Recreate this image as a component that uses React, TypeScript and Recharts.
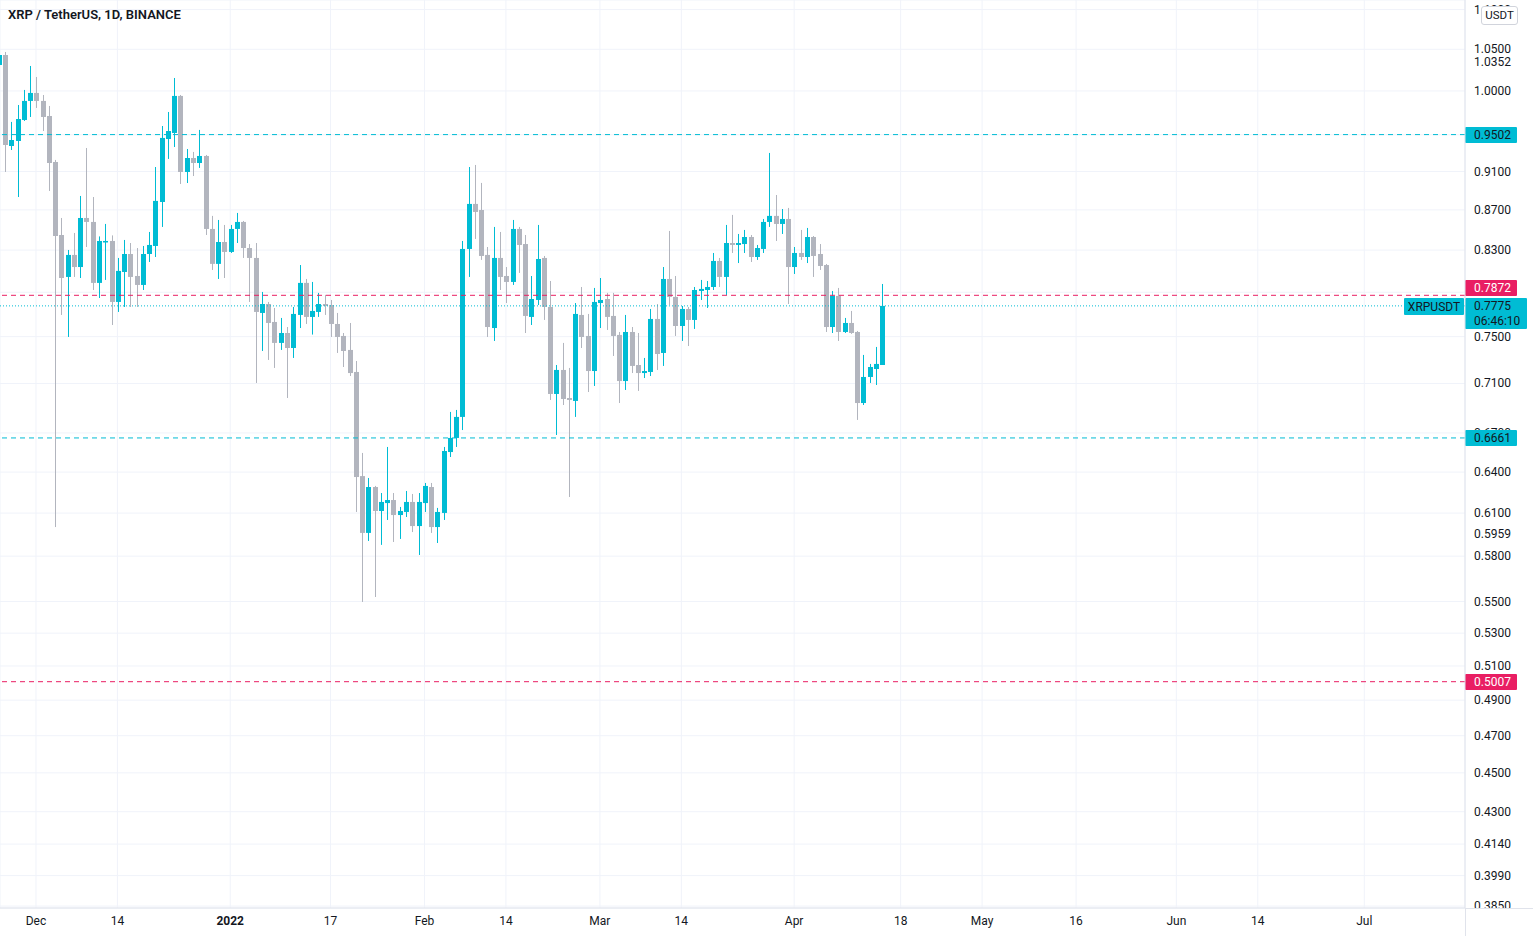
import React from "react"
import { ComposedChart, Bar, XAxis, YAxis, CartesianGrid, ReferenceLine } from "recharts"

const TEAL = "#00bcd4"
const GREY = "#b2b5be"
const RED = "#e91e63"
const TEXT = "#131722"
const GRID = "#f0f3fa"
const BORDER = "#e0e3eb"

// day 0 = 26 Nov 2021, the first value is 25 Nov (day -1)
const firstDay = -1

const open = [
  1.0309, 1.043, 0.9376, 0.9431, 0.9666, 0.9884, 0.9977, 0.9884, 0.9711, 0.9202,
  0.8448, 0.8043, 0.8253, 0.8137, 0.8618, 0.8578, 0.7987, 0.8379, 0.8389, 0.7811,
  0.809, 0.8262, 0.8052, 0.7968, 0.8262, 0.834, 0.8781, 0.9453, 0.952, 0.9942,
  0.9095, 0.9245, 0.9191, 0.9267, 0.8508, 0.8167, 0.8379, 0.8282, 0.8508, 0.8578,
  0.832, 0.8224, 0.7711, 0.7792, 0.763, 0.7445, 0.7532, 0.7401, 0.7693, 0.7987,
  0.7675, 0.772, 0.7792, 0.7783, 0.7612, 0.7506, 0.7384, 0.7196, 0.637, 0.596,
  0.6289, 0.6115, 0.6172, 0.6194, 0.6086, 0.6108, 0.618, 0.6008, 0.6172, 0.6289,
  0.6001, 0.6101, 0.6552, 0.6661, 0.6827, 0.8311, 0.8761, 0.8699, 0.8253, 0.7576,
  0.8224, 0.8052, 0.7996, 0.8508, 0.8359, 0.7675, 0.7829, 0.8224, 0.7765, 0.7013,
  0.7213, 0.698, 0.6956, 0.7693, 0.7506, 0.7204, 0.7801, 0.7838, 0.7684, 0.7515,
  0.712, 0.7541, 0.7255, 0.7187, 0.7196, 0.7657, 0.7358, 0.8024, 0.7857, 0.7594,
  0.7747, 0.7648, 0.7912, 0.7921, 0.7949, 0.8195, 0.8043, 0.8369, 0.835, 0.8359,
  0.8428, 0.8233, 0.8311, 0.8578, 0.8639, 0.8558, 0.8608, 0.8137, 0.8272, 0.8233,
  0.8428, 0.8262, 0.8156, 0.7585, 0.7866, 0.7541, 0.7621, 0.7541, 0.6939, 0.7154,
  0.7221, 0.7255,
]
const high = [
  1.0553, 1.0467, 0.9644, 0.9837, 1.0012, 1.0297, 1.0165, 0.9953, 0.9826, 0.9224,
  0.8618, 0.8301, 0.8468, 0.8843, 0.9354, 0.8832, 0.8434, 0.8558, 0.8444, 0.8224,
  0.8399, 0.8369, 0.832, 0.834, 0.8478, 0.9148, 0.9598, 0.9757, 1.0153, 0.9953,
  0.9343, 0.9311, 0.9554, 0.9278, 0.8639, 0.8598, 0.8548, 0.8548, 0.8669, 0.8588,
  0.8359, 0.8369, 0.7903, 0.7811, 0.7756, 0.7666, 0.7585, 0.7765, 0.8156, 0.8024,
  0.7996, 0.7894, 0.7876, 0.7829, 0.7711, 0.7532, 0.7621, 0.7289, 0.6545, 0.6356,
  0.6297, 0.6245, 0.6591, 0.6245, 0.6144, 0.626, 0.6238, 0.6245, 0.6319, 0.6319,
  0.6137, 0.6591, 0.6867, 0.6883, 0.8389, 0.9148, 0.917, 0.8979, 0.833, 0.8528,
  0.8478, 0.8137, 0.8598, 0.8528, 0.8448, 0.8052, 0.8548, 0.8243, 0.8005, 0.7255,
  0.7445, 0.723, 0.7801, 0.7949, 0.7702, 0.794, 0.8033, 0.7894, 0.7894, 0.7541,
  0.7693, 0.7585, 0.7532, 0.7315, 0.7747, 0.7792, 0.8137, 0.8488, 0.8052, 0.7774,
  0.7765, 0.7949, 0.8015, 0.8005, 0.8272, 0.8224, 0.8548, 0.8649, 0.8458, 0.8498,
  0.8448, 0.835, 0.8608, 0.93, 0.8853, 0.8709, 0.872, 0.833, 0.8498, 0.8518,
  0.8438, 0.8359, 0.8166, 0.7912, 0.794, 0.7666, 0.7729, 0.755, 0.7341, 0.7264,
  0.741, 0.7977,
]
const low = [
  1.0189, 0.9095, 0.9332, 0.8832, 0.9655, 0.97, 0.9803, 0.9542, 0.8895, 0.6001,
  0.7693, 0.7497, 0.8043, 0.8033, 0.833, 0.7921, 0.7847, 0.8015, 0.7603, 0.772,
  0.7765, 0.7765, 0.7765, 0.7921, 0.8185, 0.8233, 0.8528, 0.9235, 0.9365, 0.8968,
  0.8978, 0.9052, 0.9138, 0.8448, 0.8109, 0.8024, 0.8033, 0.8272, 0.8369, 0.8224,
  0.7811, 0.7104, 0.7375, 0.7298, 0.723, 0.7384, 0.698, 0.7315, 0.7576, 0.7612,
  0.7518, 0.7675, 0.7693, 0.7497, 0.7358, 0.7238, 0.7162, 0.6108, 0.5497, 0.5904,
  0.5529, 0.5877, 0.6051, 0.5897, 0.5918, 0.6072, 0.5966, 0.5808, 0.6108, 0.596,
  0.589, 0.6051, 0.6514, 0.6591, 0.6723, 0.8043, 0.8409, 0.8205, 0.7497, 0.7462,
  0.7921, 0.7801, 0.7968, 0.8081, 0.7532, 0.7603, 0.7783, 0.7648, 0.6964, 0.6684,
  0.6923, 0.6216, 0.6827, 0.7401, 0.7029, 0.7079, 0.7576, 0.7559, 0.7332, 0.6939,
  0.7046, 0.7187, 0.7038, 0.7145, 0.7162, 0.7213, 0.7247, 0.7783, 0.7506, 0.7462,
  0.7418, 0.7568, 0.7829, 0.7756, 0.7921, 0.7949, 0.7875, 0.8272, 0.8175, 0.8272,
  0.8185, 0.8205, 0.8272, 0.8528, 0.8389, 0.8458, 0.7792, 0.8071, 0.8205, 0.8175,
  0.8043, 0.8109, 0.7541, 0.7532, 0.7462, 0.7532, 0.7524, 0.6803, 0.6923, 0.7104,
  0.7087, 0.7255,
]
const close = [
  1.043, 0.9387, 0.9442, 0.9677, 0.9884, 0.9977, 0.9884, 0.97, 0.9191, 0.8438,
  0.8033, 0.8253, 0.8137, 0.8618, 0.8578, 0.7987, 0.8389, 0.8389, 0.7811, 0.81,
  0.8262, 0.8043, 0.7968, 0.8262, 0.835, 0.8792, 0.9465, 0.9542, 0.9942, 0.9095,
  0.9245, 0.9191, 0.9267, 0.8508, 0.8167, 0.8379, 0.8282, 0.8508, 0.8578, 0.832,
  0.8224, 0.772, 0.7792, 0.7621, 0.7445, 0.7532, 0.7401, 0.7702, 0.7987, 0.7675,
  0.7729, 0.7792, 0.7774, 0.7612, 0.7497, 0.7375, 0.7187, 0.6363, 0.596, 0.6289,
  0.6115, 0.618, 0.6194, 0.6086, 0.6115, 0.618, 0.6008, 0.618, 0.6297, 0.6001,
  0.6108, 0.656, 0.6661, 0.6827, 0.8311, 0.8761, 0.8679, 0.8243, 0.7585, 0.8224,
  0.8043, 0.7996, 0.8508, 0.835, 0.7684, 0.7838, 0.8214, 0.7765, 0.7013, 0.7213,
  0.6972, 0.6964, 0.7702, 0.7497, 0.7204, 0.7811, 0.7829, 0.7675, 0.7506, 0.712,
  0.7541, 0.7247, 0.7187, 0.7204, 0.7657, 0.7349, 0.8024, 0.7857, 0.7594, 0.7747,
  0.7648, 0.7921, 0.7931, 0.7949, 0.8195, 0.8043, 0.8369, 0.835, 0.8369, 0.8428,
  0.8233, 0.832, 0.8578, 0.8639, 0.8558, 0.8608, 0.8137, 0.8272, 0.8233, 0.8428,
  0.8243, 0.8147, 0.7585, 0.7866, 0.7541, 0.7621, 0.7532, 0.6939, 0.7154, 0.7238,
  0.7264, 0.7775,
]

const xTicks = [5, 18, 36, 52, 67, 80, 95, 108, 126, 143, 156, 171, 187, 200, 217]
const xLabels = ["Dec", "14", "2022", "17", "Feb", "14", "Mar", "14", "Apr", "18", "May", "16", "Jun", "14", "Jul"]

const yTicks = [
  1.1, 1.05, 1.0, 0.95, 0.91, 0.87, 0.83, 0.79, 0.75, 0.71, 0.67, 0.64, 0.61, 0.58,
  0.55, 0.53, 0.51, 0.49, 0.47, 0.45, 0.43, 0.414, 0.399, 0.385,
]

const tealLevels = [0.9502, 0.6661]
const redLevels = [0.7872, 0.5007]
const markPrices = [1.0352, 0.5959]
const lastPrice = 0.7775
const countdown = "06:46:10"
const symbol = "XRPUSDT"

const Y_MIN = 0.38414
const Y_MAX = 1.1124
const PLOT_H = 908
const PX_PER_LN = PLOT_H / Math.log(Y_MAX / Y_MIN)
const RED_SHIFT = -7

// price tags on the axis that hide the tick labels under them: [price, shift]
const tagBoxes: [number, number][] = [
  [tealLevels[0], 0],
  [tealLevels[1], 0],
  [redLevels[0], RED_SHIFT],
  [redLevels[1], 0],
]

const data = open.map((o, i) => ({
  day: firstDay + i,
  open: o,
  high: high[i],
  low: low[i],
  close: close[i],
  range: [low[i], high[i]],
}))

function Candle(props: any) {
  const { x, y, width, height, payload } = props
  if (!payload || height == null) return null
  const top = Math.min(y, y + height)
  const bot = Math.max(y, y + height)
  const lh = Math.log(payload.high)
  const span = lh - Math.log(payload.low) || 1
  const py = (p: number) => top + ((bot - top) * (lh - Math.log(p))) / span
  const up = payload.close >= payload.open
  const col = up ? TEAL : GREY
  const cx = Math.round(x + width / 2)
  const bt = py(Math.max(payload.open, payload.close))
  const bb = py(Math.min(payload.open, payload.close))
  return (
    <g>
      <line x1={cx + 0.5} x2={cx + 0.5} y1={top} y2={bot} stroke={col} strokeWidth={1} />
      <rect x={cx - 2} y={bt} width={5} height={Math.max(1.5, bb - bt)} fill={col} />
    </g>
  )
}

function XTick(props: any) {
  const { x, y, payload } = props
  const label = xLabels[xTicks.indexOf(payload.value)]
  return (
    <text x={x} y={y + 17} textAnchor="middle" fontSize={12} fill={TEXT} fontWeight={label === "2022" ? 700 : 400}>
      {label}
    </text>
  )
}

function YTick(props: any) {
  const { x, y, payload, index } = props
  const v: number = payload.value
  // a tag box lying over this label cuts it off from its top edge down
  let cut: number | null = null
  for (const [p, shift] of tagBoxes) {
    const ty = y - PX_PER_LN * Math.log(p / v) + shift
    if (Math.abs(ty - y) < 14) cut = Math.min(cut ?? Infinity, ty - 8)
  }
  if (cut !== null && cut <= y - 5) return null
  const id = "ytick-clip-" + index
  return (
    <g>
      {cut !== null && (
        <defs>
          <clipPath id={id}>
            <rect x={x} y={y - 20} width={70} height={cut - (y - 20)} />
          </clipPath>
        </defs>
      )}
      <text x={x + 9} y={y + 4} fontSize={12} fill={TEXT} clipPath={cut !== null ? `url(#${id})` : undefined}>
        {v.toFixed(4)}
      </text>
    </g>
  )
}

function LevelTag(props: any) {
  const { viewBox, value, fill, textFill, shift = 0 } = props
  if (!viewBox) return null
  const x = viewBox.x + viewBox.width
  const cy = Math.round(viewBox.y + shift)
  return (
    <g>
      <rect x={x} y={cy - 8} width={52} height={16} fill={fill} rx={1} />
      <text x={x + 9} y={cy + 4} fontSize={12} fill={textFill}>
        {value.toFixed(4)}
      </text>
    </g>
  )
}

function MarkTag(props: any) {
  const { viewBox, value } = props
  if (!viewBox) return null
  const x = viewBox.x + viewBox.width
  return (
    <text x={x + 9} y={Math.round(viewBox.y) + 5} fontSize={12} fill={TEXT}>
      {value.toFixed(4)}
    </text>
  )
}

function LastTag(props: any) {
  const { viewBox } = props
  if (!viewBox) return null
  const x = viewBox.x + viewBox.width
  const cy = Math.round(viewBox.y)
  return (
    <g>
      <rect x={x - 61} y={cy - 8} width={60} height={17} fill={TEAL} rx={1} />
      <text x={x - 31} y={cy + 5} textAnchor="middle" fontSize={12} fill={TEXT}>
        {symbol}
      </text>
      <rect x={x} y={cy - 8} width={62} height={31} fill={TEAL} rx={1} />
      <text x={x + 9} y={cy + 4} fontSize={12} fill={TEXT}>
        {lastPrice.toFixed(4)}
      </text>
      <text x={x + 9} y={cy + 19} fontSize={12} fill={TEXT}>
        {countdown}
      </text>
    </g>
  )
}

export default function App() {
  return (
    <div
      style={{
        position: "absolute",
        left: 0,
        top: 0,
        width: 1533,
        height: 936,
        background: "#fff",
        fontFamily: "Roboto, 'Open Sans', sans-serif",
        overflow: "hidden",
      }}
    >
      <ComposedChart width={1533} height={936} data={data} margin={{ top: 0, right: 0, bottom: 0, left: 0 }}>
        <CartesianGrid stroke={GRID} />
        <XAxis
          dataKey="day"
          type="number"
          domain={[-0.742, 233.07]}
          allowDataOverflow
          ticks={xTicks}
          interval={0}
          height={28}
          tickSize={0}
          tickMargin={0}
          tickLine={false}
          axisLine={{ stroke: BORDER }}
          tick={(p: any) => <XTick {...p} />}
        />
        <YAxis
          orientation="right"
          scale="log"
          type="number"
          domain={[Y_MIN, Y_MAX]}
          allowDataOverflow
          ticks={yTicks}
          interval={0}
          width={68}
          tickSize={0}
          tickMargin={0}
          tickLine={false}
          axisLine={{ stroke: BORDER }}
          tick={(p: any) => <YTick {...p} />}
        />
        <Bar dataKey="range" barSize={5} isAnimationActive={false} shape={(p: any) => <Candle {...p} />} />
        {markPrices.map((v) => (
          <ReferenceLine key={"m" + v} y={v} stroke="none" label={<MarkTag value={v} />} />
        ))}
        {tealLevels.map((v) => (
          <ReferenceLine
            key={"t" + v}
            y={v}
            stroke={TEAL}
            strokeDasharray="5 4"
            label={<LevelTag value={v} fill={TEAL} textFill={TEXT} />}
          />
        ))}
        <ReferenceLine y={lastPrice} stroke={TEAL} strokeDasharray="1 2" label={<LastTag />} />
        {redLevels.map((v, i) => (
          <ReferenceLine
            key={"r" + v}
            y={v}
            stroke={RED}
            strokeDasharray="5 4"
            label={<LevelTag value={v} fill={RED} textFill="#fff" shift={i === 0 ? RED_SHIFT : 0} />}
          />
        ))}
      </ComposedChart>
      <div
        style={{
          position: "absolute",
          left: 8,
          top: 7,
          fontSize: 13,
          fontWeight: 600,
          color: TEXT,
          whiteSpace: "nowrap",
        }}
      >
        XRP / TetherUS, 1D, BINANCE
      </div>
      <div
        style={{
          position: "absolute",
          left: 1481,
          top: 6,
          width: 35,
          height: 17,
          border: "1px solid #d1d4dc",
          borderRadius: 3,
          background: "#fff",
          fontSize: 11.5,
          lineHeight: "17px",
          textAlign: "center",
          color: TEXT,
        }}
      >
        USDT
      </div>
      <div style={{ position: "absolute", left: 1466, top: 909, width: 67, height: 27, background: "#fff" }} />
      <div style={{ position: "absolute", left: 1465, top: 908, width: 68, height: 1, background: BORDER }} />
      <div style={{ position: "absolute", left: 1465, top: 908, width: 1, height: 28, background: BORDER }} />
    </div>
  )
}
